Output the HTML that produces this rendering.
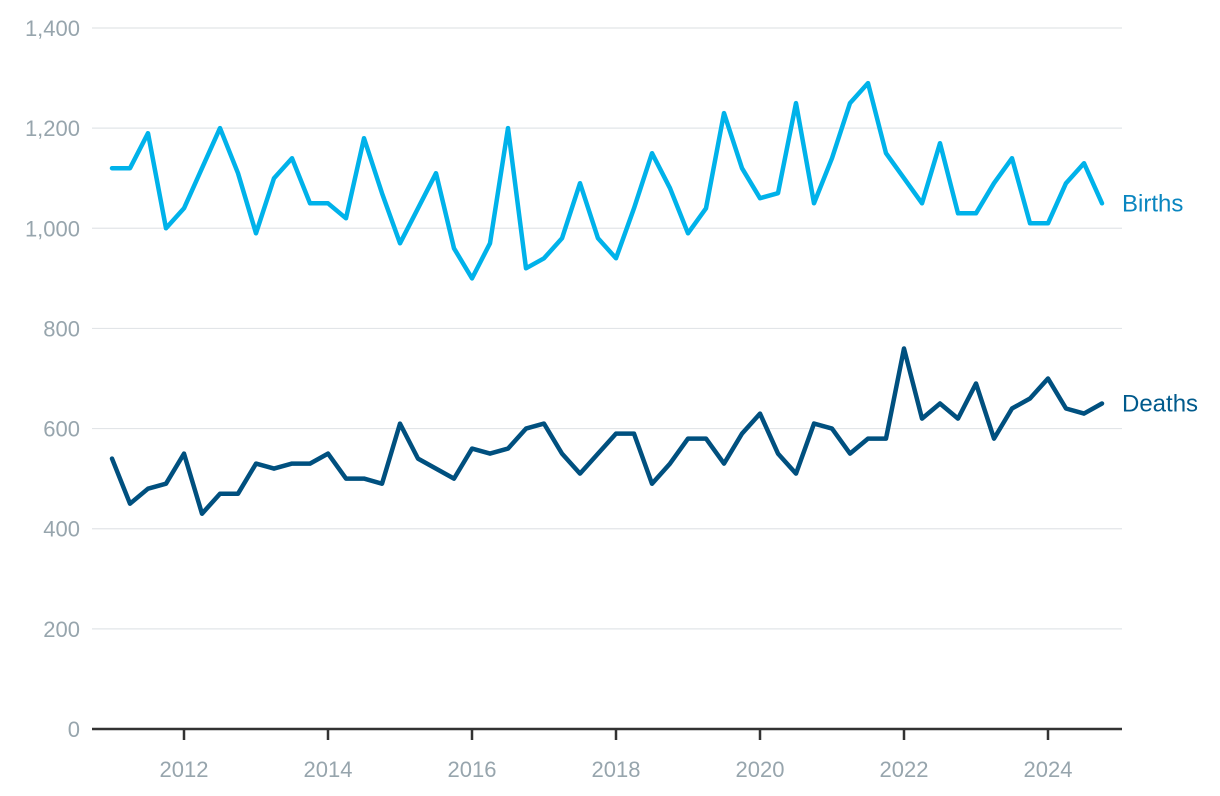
<!DOCTYPE html>
<html><head><meta charset="utf-8"><style>
html,body{margin:0;padding:0;background:#fff;}
svg{display:block;font-family:"Liberation Sans",sans-serif;}
</style></head><body>
<svg id="chart" width="1220" height="796" viewBox="0 0 1220 796"></svg>
<script>
const yTicks=[0,200,400,600,800,1000,1200,1400];
const yearTicks=[2012,2014,2016,2018,2020,2022,2024];
const births=[1120,1120,1190,1000,1040,1120,1200,1110,990,1100,1140,1050,1050,1020,1180,1070,970,1040,1110,960,900,970,1200,920,940,980,1090,980,940,1040,1150,1080,990,1040,1230,1120,1060,1070,1250,1050,1140,1250,1290,1150,1100,1050,1170,1030,1030,1090,1140,1010,1010,1090,1130,1050];
const deaths=[540,450,480,490,550,430,470,470,530,520,530,530,550,500,500,490,610,540,520,500,560,550,560,600,610,550,510,550,590,590,490,530,580,580,530,590,630,550,510,610,600,550,580,580,760,620,650,620,690,580,640,660,700,640,630,650];
const startYear=2011;
const NS="http://www.w3.org/2000/svg";
const svg=document.getElementById('chart');
const X=t=>112+(t-startYear)*72;
const Y=v=>729-v*(701/1400);
function mk(tag,attrs,parent){const e=document.createElementNS(NS,tag);for(const k in attrs)e.setAttribute(k,attrs[k]);(parent||svg).appendChild(e);return e;}
yTicks.forEach(v=>{
  if(v>0){const g=mk('line',{x1:92,x2:1122,y1:Y(v),y2:Y(v),stroke:'#e2e5e8','stroke-width':1.2});
  
  }
  const t=mk('text',{x:80,y:Y(v)+8,'text-anchor':'end','font-size':22,fill:'#97a5ad'});
  t.textContent=v.toLocaleString('en-US');
  
  
});
const ax=mk('line',{x1:92,x2:1122,y1:729,y2:729,stroke:'#333','stroke-width':2.5});


yearTicks.forEach(yr=>{
  const tk=mk('line',{x1:X(yr),x2:X(yr),y1:729,y2:740,stroke:'#333','stroke-width':2.5});
  
  
  const t=mk('text',{x:X(yr),y:777,'text-anchor':'middle','font-size':22,fill:'#97a5ad'});
  t.textContent=yr;
  
  
});
function series(arr,color,name,labelColor,label){
  const d=arr.map((v,i)=>(i?'L':'M')+X(startYear+i*0.25).toFixed(1)+','+Y(v).toFixed(1)).join('');
  const p=mk('path',{d:d,fill:'none',stroke:color,'stroke-width':4.5,'stroke-linejoin':'round','stroke-linecap':'round'});
  
  
  const t=mk('text',{x:1122,y:Y(arr[arr.length-1])+8,'font-size':24,fill:labelColor});
  t.textContent=label;
  
  
}
series(births,'#00b2ea','births','#0a86c0','Births');
series(deaths,'#00507f','deaths','#005a8c','Deaths');
</script>
</body></html>
